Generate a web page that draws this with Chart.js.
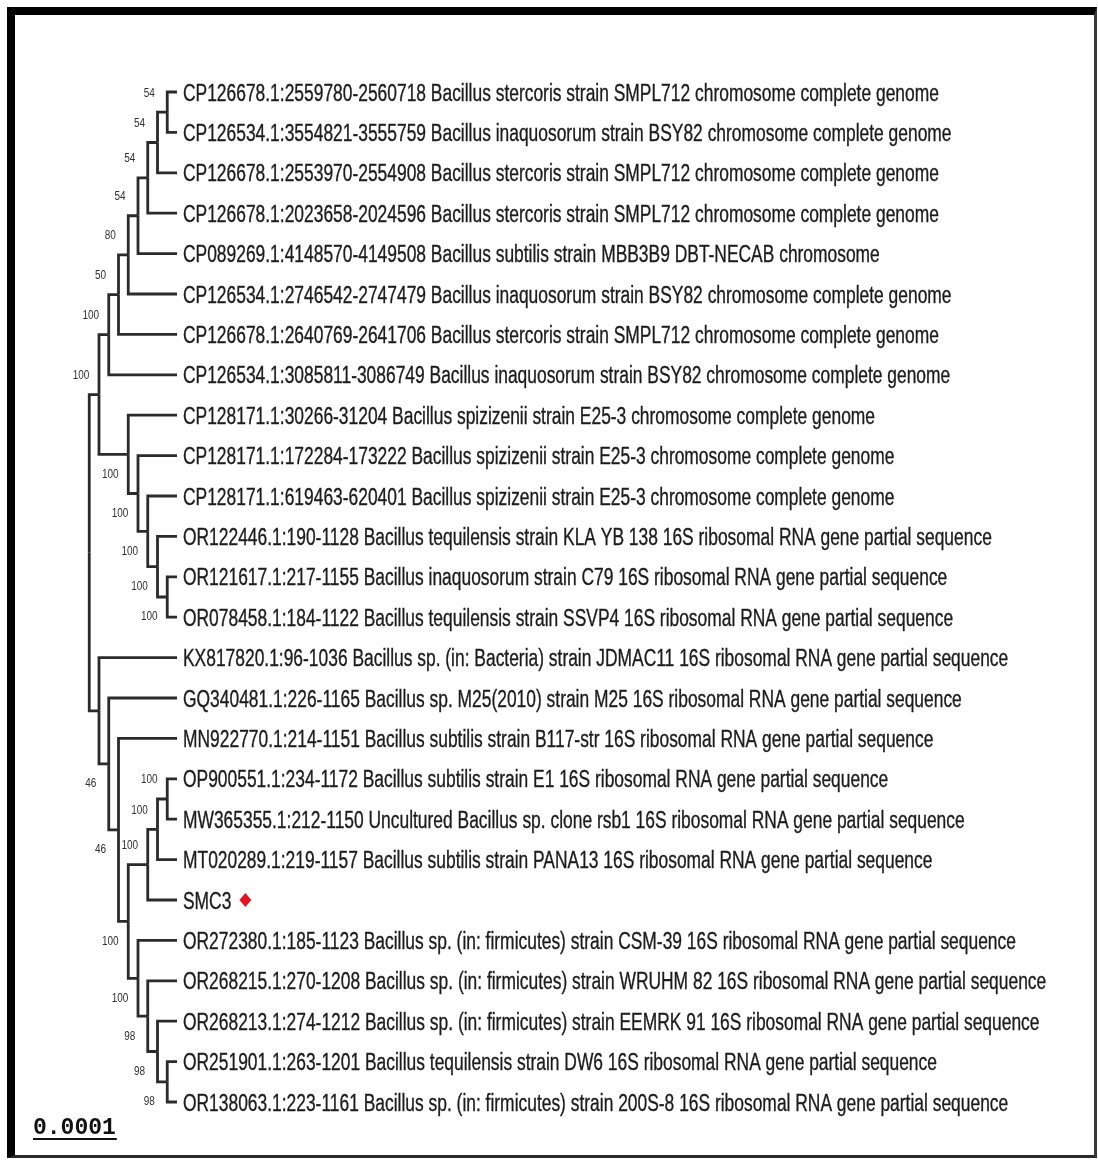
<!DOCTYPE html>
<html>
<head>
<meta charset="utf-8">
<script src="https://cdn.jsdelivr.net/npm/chart.js@4.4.1/dist/chart.umd.min.js"></script>
<style>
  html, body { margin: 0; padding: 0; background: #fff; }
  #frame {
    position: absolute; left: 7px; top: 7px; width: 1090px; height: 1151px;
    box-sizing: border-box;
    border-left: 8px solid #000; border-top: 8px solid #000;
    border-right: 3px solid #3a3a3a; border-bottom: 3px solid #2a2a2a;
  }
  #tree { position: absolute; left: 0; top: 0; }
</style>
</head>
<body>
<div id="frame"></div>
<canvas id="tree" width="1098" height="1161"></canvas>
<script>
// Nombres de las secuencias (hojas del árbol, de arriba hacia abajo)
const taxa = [
  'CP126678.1:2559780-2560718 Bacillus stercoris strain SMPL712 chromosome complete genome',
  'CP126534.1:3554821-3555759 Bacillus inaquosorum strain BSY82 chromosome complete genome',
  'CP126678.1:2553970-2554908 Bacillus stercoris strain SMPL712 chromosome complete genome',
  'CP126678.1:2023658-2024596 Bacillus stercoris strain SMPL712 chromosome complete genome',
  'CP089269.1:4148570-4149508 Bacillus subtilis strain MBB3B9 DBT-NECAB chromosome',
  'CP126534.1:2746542-2747479 Bacillus inaquosorum strain BSY82 chromosome complete genome',
  'CP126678.1:2640769-2641706 Bacillus stercoris strain SMPL712 chromosome complete genome',
  'CP126534.1:3085811-3086749 Bacillus inaquosorum strain BSY82 chromosome complete genome',
  'CP128171.1:30266-31204 Bacillus spizizenii strain E25-3 chromosome complete genome',
  'CP128171.1:172284-173222 Bacillus spizizenii strain E25-3 chromosome complete genome',
  'CP128171.1:619463-620401 Bacillus spizizenii strain E25-3 chromosome complete genome',
  'OR122446.1:190-1128 Bacillus tequilensis strain KLA YB 138 16S ribosomal RNA gene partial sequence',
  'OR121617.1:217-1155 Bacillus inaquosorum strain C79 16S ribosomal RNA gene partial sequence',
  'OR078458.1:184-1122 Bacillus tequilensis strain SSVP4 16S ribosomal RNA gene partial sequence',
  'KX817820.1:96-1036 Bacillus sp. (in: Bacteria) strain JDMAC11 16S ribosomal RNA gene partial sequence',
  'GQ340481.1:226-1165 Bacillus sp. M25(2010) strain M25 16S ribosomal RNA gene partial sequence',
  'MN922770.1:214-1151 Bacillus subtilis strain B117-str 16S ribosomal RNA gene partial sequence',
  'OP900551.1:234-1172 Bacillus subtilis strain E1 16S ribosomal RNA gene partial sequence',
  'MW365355.1:212-1150 Uncultured Bacillus sp. clone rsb1 16S ribosomal RNA gene partial sequence',
  'MT020289.1:219-1157 Bacillus subtilis strain PANA13 16S ribosomal RNA gene partial sequence',
  'SMC3',
  'OR272380.1:185-1123 Bacillus sp. (in: firmicutes) strain CSM-39 16S ribosomal RNA gene partial sequence',
  'OR268215.1:270-1208 Bacillus sp. (in: firmicutes) strain WRUHM 82 16S ribosomal RNA gene partial sequence',
  'OR268213.1:274-1212 Bacillus sp. (in: firmicutes) strain EEMRK 91 16S ribosomal RNA gene partial sequence',
  'OR251901.1:263-1201 Bacillus tequilensis strain DW6 16S ribosomal RNA gene partial sequence',
  'OR138063.1:223-1161 Bacillus sp. (in: firmicutes) strain 200S-8 16S ribosomal RNA gene partial sequence'
];

// Topología en formato Newick (índices de taxa) con valores de bootstrap
const newick =
  '(((((((((0,1)54,2)54,3)54,4)54,5)80,6)50,7)100,(8,(9,(10,(11,(12,13)100)100)100)100)100)100,' +
  '(14,(15,(16,((((17,18)100,19)100,20)100,(21,(22,(23,(24,25)98)98)98)100)100)46)46));';

// Secuencia propia marcada con el rombo rojo
const highlighted = ['SMC3'];

// Etiqueta de la barra de escala
const scaleBarLabel = '0.0001';

// Parámetros de dibujo
const W = 1098, H = 1161;
const TIP_PX = 177, STEP_PX = 9.75;   // posición de las puntas y paso por nivel
const TOP_PX = 92, ROW_PX = 40.4;     // primera hoja y separación vertical
const LINE_COLOR = '#2b2b2b';
const TEXT_COLOR = '#1c1c1c';

// Leer el Newick
function parseNewick(s) {
  let i = 0;
  function node() {
    const n = { children: [] };
    if (s[i] === '(') {
      i++;
      n.children.push(node());
      while (s[i] === ',') { i++; n.children.push(node()); }
      i++;
    }
    let tok = '';
    while (i < s.length && !',();'.includes(s[i])) tok += s[i++];
    if (n.children.length) n.support = tok ? Number(tok) : null;
    else n.leaf = Number(tok);
    return n;
  }
  return node();
}

// Altura (niveles hasta la hoja más lejana) y posición vertical
function layout(n) {
  if (!n.children.length) { n.h = 0; n.y = n.leaf; return; }
  n.children.forEach(layout);
  n.h = Math.max(...n.children.map(c => c.h)) + 1;
  n.y = (n.children[0].y + n.children[n.children.length - 1].y) / 2;
}

const root = parseNewick(newick);
layout(root);

// Un dataset por rama (codo: vertical en el padre + horizontal hacia el hijo)
const datasets = [];
const supports = [];
(function walk(p) {
  p.children.forEach((c, k) => {
    datasets.push({
      data: [{ x: -p.h, y: p.y }, { x: -p.h, y: c.y }, { x: -c.h, y: c.y }],
      showLine: true,
      borderColor: LINE_COLOR,
      borderWidth: 2.8,
      borderJoinStyle: 'miter',
      pointRadius: 0,
      tension: 0
    });
    if (c.children.length && c.support != null) {
      supports.push({ x: -c.h, y: c.y, value: c.support, above: k === 0 });
    }
    walk(c);
  });
})(root);

// Plugin para textos: nombres, bootstrap, rombo y barra de escala
const treeText = {
  id: 'treeText',
  afterDatasetsDraw(chart) {
    const ctx = chart.ctx;
    const xs = chart.scales.x, ys = chart.scales.y;
    const tipX = xs.getPixelForValue(0);

    ctx.save();
    ctx.fillStyle = TEXT_COLOR;
    ctx.strokeStyle = TEXT_COLOR;
    ctx.lineWidth = 0.35;
    ctx.font = '23px "Liberation Sans", Arial, sans-serif';
    ctx.textBaseline = 'alphabetic';
    ctx.textAlign = 'left';
    const sx = 0.757;
    taxa.forEach((name, i) => {
      const y = ys.getPixelForValue(i);
      const x0 = tipX + 6;
      ctx.save();
      ctx.translate(x0, y + 8.5);
      ctx.scale(sx, 1);
      ctx.fillText(name, 0, 0);
      ctx.strokeText(name, 0, 0);
      ctx.restore();
      if (highlighted.includes(name)) {
        const cx = x0 + ctx.measureText(name).width * sx + 14;
        const r = 7;
        ctx.save();
        ctx.fillStyle = '#e5121f';
        ctx.beginPath();
        ctx.moveTo(cx, y - r);
        ctx.lineTo(cx + r * 0.85, y);
        ctx.lineTo(cx, y + r);
        ctx.lineTo(cx - r * 0.85, y);
        ctx.closePath();
        ctx.fill();
        ctx.restore();
      }
    });

    // Valores de bootstrap
    ctx.font = '12.5px "Liberation Sans", Arial, sans-serif';
    ctx.textAlign = 'center';
    ctx.textBaseline = 'middle';
    ctx.fillStyle = '#333';
    supports.forEach(s => {
      const px = xs.getPixelForValue(s.x) - 18;
      const py = ys.getPixelForValue(s.y) + (s.above ? -19 : 20);
      ctx.save();
      ctx.translate(px, py);
      ctx.scale(0.8, 1);
      ctx.fillText(String(s.value), 0, 0);
      ctx.restore();
    });

    // Barra de escala
    ctx.font = 'bold 23px "Liberation Mono", "Courier New", monospace';
    ctx.textAlign = 'left';
    ctx.textBaseline = 'alphabetic';
    ctx.fillStyle = '#111';
    const bx = 33, by = 1134;
    ctx.fillText(scaleBarLabel, bx, by);
    const bw = ctx.measureText(scaleBarLabel).width;
    ctx.strokeStyle = '#111';
    ctx.lineWidth = 2;
    ctx.beginPath();
    ctx.moveTo(bx, by + 5);
    ctx.lineTo(bx + bw + 1, by + 5);
    ctx.stroke();
    ctx.restore();
  }
};

new Chart(document.getElementById('tree'), {
  type: 'scatter',
  data: { datasets },
  options: {
    responsive: false,
    animation: false,
    layout: { padding: 0 },
    plugins: { legend: { display: false }, tooltip: { enabled: false } },
    scales: {
      x: { type: 'linear', display: false, min: -TIP_PX / STEP_PX, max: (W - TIP_PX) / STEP_PX },
      y: { type: 'linear', display: false, reverse: true, min: -TOP_PX / ROW_PX, max: (H - TOP_PX) / ROW_PX }
    }
  },
  plugins: [treeText]
});
</script>
</body>
</html>
